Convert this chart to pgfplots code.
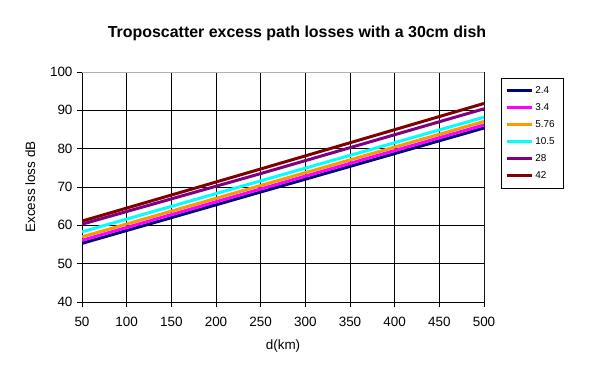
\documentclass[border=0pt]{standalone}
\usepackage{pgfplots}
\pgfplotsset{compat=1.18}
\usepackage{fontspec}
\setmainfont{Liberation Sans}
\definecolor{c1}{RGB}{0,0,128}
\definecolor{c2}{RGB}{255,0,255}
\definecolor{c3}{RGB}{255,153,0}
\definecolor{c4}{RGB}{0,255,255}
\definecolor{c5}{RGB}{128,0,128}
\definecolor{c6}{RGB}{128,0,0}
\begin{document}
\begin{tikzpicture}
\begin{axis}[
  scale only axis,
  width=402bp, height=230bp,
  xmin=50, xmax=500, ymin=40, ymax=100,
  xtick={50,100,...,500}, ytick={40,50,...,100},
  grid=major,
  major grid style={black, line width=0.8pt},
  axis line style={black, line width=0.8pt},
  axis x line*=bottom, axis y line*=left,
  tick style={black, line width=0.8pt},
  tick align=outside,
  major tick length=5bp,
  /pgf/number format/assume math mode=true,
  ticklabel style={font=\fontsize{13.5}{15}\selectfont},
  xtick pos=bottom, ytick pos=left,
  xticklabel style={yshift=-7bp},
  yticklabel style={xshift=-1bp},
  xlabel={d(km)}, ylabel={Excess loss dB},
  label style={font=\fontsize{13.5}{15}\selectfont},
  xlabel style={yshift=-6bp},
  ylabel style={yshift=8bp},
  legend style={at={(1.0423,0.974)}, anchor=north west, draw=black, line width=0.8pt,
    font=\fontsize{10}{11}\selectfont, row sep=4.6bp, inner xsep=4bp, inner ysep=6bp,
    text width=22bp},
  legend cell align=left,
  legend image code/.code={\draw[#1, line width=3bp] (0bp,0bp) -- (25bp,0bp);},
  every axis plot/.append style={line width=3pt},
]
\addplot[c1] coordinates {(50,55.3) (250,68.7) (500,85.4)};
\addplot[c2] coordinates {(50,56.1) (250,69.5) (500,86.2)};
\addplot[c3] coordinates {(50,57.0) (250,70.4) (500,87.1)};
\addplot[c4] coordinates {(50,58.3) (250,71.6) (500,88.2)};
\addplot[c5] coordinates {(50,60.3) (250,73.5) (500,90.4)};
\addplot[c6] coordinates {(50,61.1) (250,74.7) (500,91.8)};
\legend{2.4,3.4,5.76,10.5,28,42}
\draw[gray!60, line width=0.8pt] (rel axis cs:0,1) -- (rel axis cs:1,1) -- (rel axis cs:1,0);
\end{axis}
\node[font=\fontsize{16}{19}\selectfont\bfseries] at (215bp,269bp) {Troposcatter excess path losses with a 30cm dish};
\path[use as bounding box] (-82bp,-74bp) rectangle (510bp,302bp);
\end{tikzpicture}
\end{document}
